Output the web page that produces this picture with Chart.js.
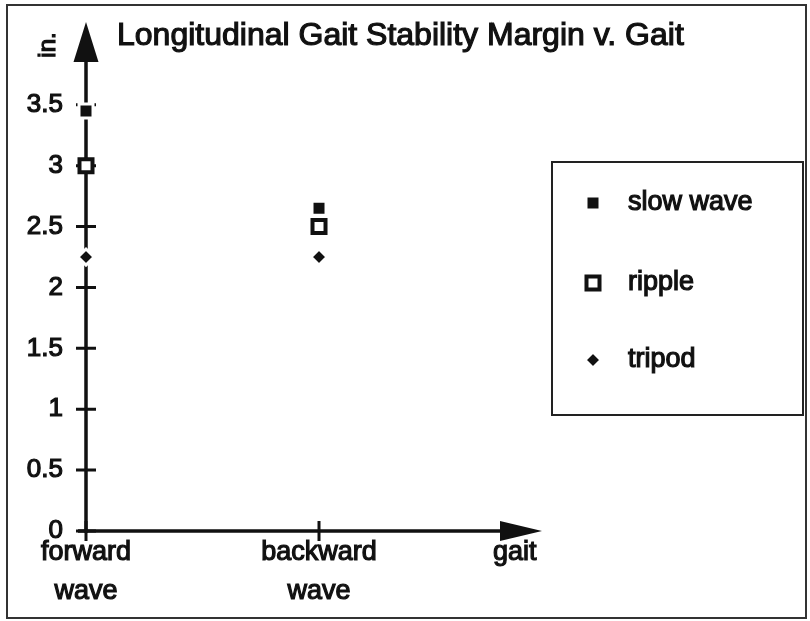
<!DOCTYPE html>
<html>
<head>
<meta charset="utf-8">
<script src="https://cdn.jsdelivr.net/npm/chart.js@4.4.0/dist/chart.umd.min.js"></script>
<style>
  html, body { margin: 0; padding: 0; background: #fff; }
  #wrap { position: relative; width: 810px; height: 621px; }
</style>
</head>
<body>
<div id="wrap"><canvas id="chart"></canvas></div>
<script>
// stability margin (in.) for each gait
const gaits = ['forward wave', 'backward wave'];
const slowWave = [3.45, 2.65];
const ripple = [3.0, 2.5];
const tripod = [2.25, 2.25];

const yTicks = [0, 0.5, 1, 1.5, 2, 2.5, 3, 3.5];
const xTickValues = [0, 1, 1.84];
const xTickLabels = [['forward', 'wave'], ['backward', 'wave'], ['gait']];

const FONT = "'Liberation Sans', Arial, Helvetica, sans-serif";
const INK = '#111';
const TEXT_STROKE = 1.2;

const toPoints = vals => vals.map((v, i) => ({ x: i, y: v }));

const seriesStyles = [
    { label: 'slow wave', data: slowWave, pointStyle: 'rect', radius: 9.9, bg: INK, border: '#fff', bw: 3 },
    { label: 'ripple', data: ripple, pointStyle: 'rect', radius: 9.2, bg: '#fff', border: INK, bw: 4 },
    { label: 'tripod', data: tripod, pointStyle: 'rectRot', radius: 8, bg: INK, border: '#fff', bw: 3 }
];

const datasets = seriesStyles.map(s => ({
    label: s.label,
    data: toPoints(s.data),
    showLine: false,
    clip: false,
    pointStyle: s.pointStyle,
    pointRadius: s.radius,
    pointHoverRadius: s.radius,
    pointBackgroundColor: s.bg,
    pointBorderColor: s.border,
    pointBorderWidth: s.bw,
    pointHoverBorderWidth: s.bw
}));

function heavyText(ctx, text, x, y) {
    ctx.fillText(text, x, y);
    ctx.strokeText(text, x, y);
}

function drawMarker(ctx, s, x, y) {
    ctx.save();
    ctx.fillStyle = s.bg;
    ctx.strokeStyle = s.border;
    ctx.lineWidth = s.bw;
    Chart.helpers.drawPoint(ctx, { pointStyle: s.pointStyle, radius: s.radius, rotation: 0, borderWidth: s.bw }, x, y);
    ctx.restore();
}

// axes with arrow heads and crossing tick marks
const axesPlugin = {
    id: 'gaitAxes',
    beforeDatasetsDraw(chart) {
        const ctx = chart.ctx;
        const xs = chart.scales.x, ys = chart.scales.y;
        const x0 = xs.getPixelForValue(0);
        const y0 = ys.getPixelForValue(0);
        const top = chart.chartArea.top;
        const right = chart.chartArea.right;
        ctx.save();

        // outer frame
        ctx.strokeStyle = '#333';
        ctx.lineWidth = 2;
        ctx.strokeRect(7, 5, 799, 613);

        ctx.strokeStyle = INK;
        ctx.fillStyle = INK;
        ctx.lineWidth = 3.5;
        ctx.beginPath();
        ctx.moveTo(x0, y0 + 2);
        ctx.lineTo(x0, top + 38);
        ctx.moveTo(x0 - 8, y0);
        ctx.lineTo(right - 40, y0);
        ctx.stroke();

        ctx.beginPath();
        ctx.moveTo(x0, top);
        ctx.lineTo(x0 - 12.5, top + 40);
        ctx.lineTo(x0 + 12.5, top + 40);
        ctx.closePath();
        ctx.fill();

        ctx.beginPath();
        ctx.moveTo(right, y0);
        ctx.lineTo(right - 42, y0 - 10);
        ctx.lineTo(right - 42, y0 + 10);
        ctx.closePath();
        ctx.fill();

        ctx.lineWidth = 3;
        ctx.beginPath();
        yTicks.forEach(v => {
            const py = ys.getPixelForValue(v);
            ctx.moveTo(x0 - 10, py);
            ctx.lineTo(x0 + 10, py);
        });
        gaits.forEach((g, i) => {
            const px = xs.getPixelForValue(i);
            ctx.moveTo(px, y0 - 10);
            ctx.lineTo(px, y0 + 10);
        });
        ctx.stroke();
        ctx.restore();
    },
    afterDraw(chart) {
        const ctx = chart.ctx;
        ctx.save();
        ctx.fillStyle = INK;
        ctx.strokeStyle = INK;
        ctx.lineWidth = TEXT_STROKE;

        // title
        ctx.font = '32px ' + FONT;
        ctx.textAlign = 'left';
        ctx.textBaseline = 'alphabetic';
        heavyText(ctx, 'Longitudinal Gait Stability Margin v. Gait', 117, 45);

        // y unit
        ctx.save();
        ctx.translate(48, 45);
        ctx.rotate(-Math.PI / 2);
        ctx.font = '24px ' + FONT;
        ctx.textAlign = 'center';
        ctx.textBaseline = 'middle';
        heavyText(ctx, 'in.', 0, 0);
        ctx.restore();

        // legend
        ctx.lineWidth = 2;
        ctx.strokeStyle = '#222';
        ctx.strokeRect(552, 162, 251, 253);
        ctx.lineWidth = TEXT_STROKE;
        ctx.strokeStyle = INK;
        ctx.font = '27px ' + FONT;
        ctx.textBaseline = 'middle';
        const rows = [203, 283, 360];
        seriesStyles.forEach((s, i) => {
            drawMarker(ctx, s, 593, rows[i]);
            heavyText(ctx, s.label, 628, rows[i]);
        });
        ctx.restore();
    }
};

new Chart(document.getElementById('chart'), {
    type: 'scatter',
    data: { datasets },
    options: {
        responsive: true,
        maintainAspectRatio: false,
        animation: false,
        events: [],
        layout: { padding: { top: 22, right: 268, left: 0, bottom: 0 } },
        plugins: {
            legend: { display: false },
            tooltip: { enabled: false }
        },
        scales: {
            x: {
                type: 'linear',
                min: 0,
                max: 1.957,
                grid: { display: false, drawTicks: false },
                border: { display: false },
                afterBuildTicks: scale => { scale.ticks = xTickValues.map(v => ({ value: v })); },
                afterFit: scale => { scale.height = 90; scale.paddingLeft = 0; scale.paddingRight = 0; },
                ticks: {
                    autoSkip: false,
                    maxRotation: 0,
                    padding: 3,
                    color: INK,
                    textStrokeColor: INK,
                    textStrokeWidth: TEXT_STROKE,
                    font: { family: FONT, size: 27, lineHeight: 1.41 },
                    callback: (v, i) => xTickLabels[i]
                }
            },
            y: {
                type: 'linear',
                min: 0,
                max: 4.18,
                grid: { display: false, drawTicks: false },
                border: { display: false },
                afterBuildTicks: scale => { scale.ticks = yTicks.map(v => ({ value: v })); },
                afterFit: scale => { scale.width = 86; scale.paddingTop = 0; scale.paddingBottom = 0; },
                ticks: {
                    autoSkip: false,
                    padding: 23,
                    color: INK,
                    textStrokeColor: INK,
                    textStrokeWidth: TEXT_STROKE,
                    font: { family: FONT, size: 26 },
                    callback: v => String(v)
                }
            }
        }
    },
    plugins: [axesPlugin]
});
</script>
</body>
</html>
